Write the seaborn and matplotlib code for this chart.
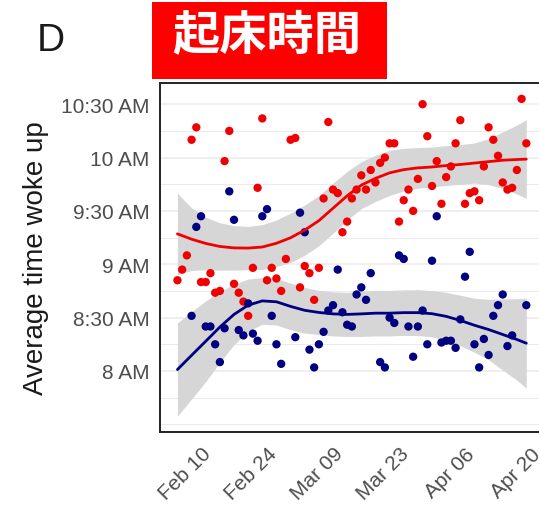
import numpy as np
import pandas as pd
import matplotlib
matplotlib.use("Agg")
import matplotlib.pyplot as plt
from matplotlib.patches import Rectangle
import seaborn as sns

sns.set_theme(style="white")
plt.rcParams["font.family"] = ["Liberation Sans", "DejaVu Sans"]

YEAR = 2020

# Daily average wake-up time, first group (red)
red_dates = ["02-05", "02-06", "02-07", "02-08", "02-09", "02-10", "02-11", "02-12",
             "02-13", "02-14", "02-15", "02-16", "02-17", "02-18", "02-19", "02-20",
             "02-21", "02-22", "02-23", "02-24", "02-25", "02-26", "02-27", "02-28",
             "02-29", "03-01", "03-02", "03-03", "03-04", "03-05", "03-06", "03-07",
             "03-08", "03-09", "03-10", "03-11", "03-12", "03-13", "03-14", "03-15",
             "03-16", "03-17", "03-18", "03-19", "03-20", "03-21", "03-22", "03-23",
             "03-24", "03-25", "03-26", "03-27", "03-28", "03-29", "03-30", "03-31",
             "04-01", "04-02", "04-03", "04-04", "04-05", "04-06", "04-07", "04-08",
             "04-09", "04-10", "04-11", "04-12", "04-13", "04-14", "04-15", "04-16",
             "04-17", "04-18", "04-19"]
red_times = ["8:51", "8:57", "9:05", "10:10", "10:17", "8:50", "8:50", "8:55",
             "8:44", "8:45", "9:58", "10:15", "8:49", "8:44", "8:39", "8:31",
             "8:58", "9:43", "10:22", "8:51", "8:58", "8:52", "8:45", "9:03",
             "10:10", "10:11", "8:47", "8:59", "8:55", "8:40", "8:58", "9:37",
             "10:20", "9:42", "9:40", "9:18", "9:24", "9:37", "9:42", "9:50",
             "9:42", "9:53", "9:46", "9:57", "10:00", "10:08", "10:08", "9:24",
             "9:36", "9:42", "9:30", "9:48", "10:30", "10:12", "9:44", "9:58",
             "9:34", "9:49", "9:55", "10:08", "10:21", "9:34", "9:40", "9:41",
             "9:36", "9:55", "10:17", "10:10", "10:01", "9:46", "9:42", "9:43",
             "9:53", "10:33", "10:08"]

# Daily average wake-up time, second group (navy)
navy_dates = ["02-08", "02-09", "02-10", "02-11", "02-12", "02-13", "02-14", "02-15",
              "02-16", "02-17", "02-18", "02-19", "02-20", "02-21", "02-22", "02-23",
              "02-24", "02-25", "02-26", "02-27", "03-01", "03-02", "03-03", "03-04",
              "03-05", "03-06", "03-07", "03-08", "03-09", "03-10", "03-11", "03-12",
              "03-13", "03-14", "03-15", "03-16", "03-17", "03-19", "03-20", "03-21",
              "03-22", "03-23", "03-24", "03-25", "03-26", "03-27", "03-28", "03-29",
              "03-30", "03-31", "04-01", "04-02", "04-03", "04-04", "04-05", "04-06",
              "04-07", "04-08", "04-09", "04-10", "04-11", "04-12", "04-13", "04-14",
              "04-15", "04-16", "04-19"]
navy_times = ["8:31", "9:21", "9:27", "8:25", "8:25", "8:15", "8:05", "8:24",
              "9:41", "9:25", "8:23", "8:20", "8:38", "8:21", "8:17", "9:27",
              "9:31", "8:31", "8:15", "8:04", "8:19", "9:29", "9:18", "8:12",
              "8:02", "8:15", "8:22", "8:34", "8:37", "8:57", "8:33", "8:26",
              "8:25", "8:43", "8:47", "8:40", "8:55", "8:05", "8:02", "8:30",
              "8:27", "9:05", "9:03", "8:25", "8:08", "8:25", "8:34", "8:15",
              "9:02", "9:27", "8:16", "8:17", "8:17", "8:13", "8:29", "8:53",
              "9:07", "8:15", "8:02", "8:18", "8:09", "8:31", "8:37", "8:43",
              "8:14", "8:20", "8:37"]

# Smoothed trend (minutes after 8 AM) and half-width of its confidence band
trend_dates = ["02-05", "02-08", "02-11", "02-14", "02-17", "02-20", "02-23", "02-26",
               "02-29", "03-03", "03-06", "03-09", "03-12", "03-15", "03-18", "03-21",
               "03-24", "03-27", "03-30", "04-02", "04-05", "04-08", "04-11", "04-14",
               "04-17", "04-19"]
red_fit = [77.1, 74.1, 71.7, 70.0, 69.2, 69.1, 69.7, 71.8, 74.9, 79.2, 84.5, 91.5, 98.5,
           104.5, 108.3, 111.4, 113.2, 114.2, 114.7, 115.5, 116.1, 116.9, 117.7, 118.5,
           118.9, 119.1]
red_band = [22.9, 17.6, 14.8, 13.3, 12.5, 12.2, 12.6, 13.1, 13.9, 14.1, 14.1, 14.1, 13.7,
            13.2, 13.0, 12.7, 12.0, 11.4, 11.2, 11.2, 11.2, 11.3, 12.9, 15.9, 19.4, 22.1]
navy_fit = [0.8, 8.8, 16.7, 24.7, 31.8, 37.0, 39.4, 38.9, 36.3, 34.1, 32.9, 32.1, 31.8,
            32.1, 32.5, 32.5, 32.8, 32.8, 32.2, 30.7, 28.4, 25.7, 23.3, 20.5, 17.7, 15.6]
navy_band = [26.2, 24.6, 22.7, 19.9, 17.0, 14.7, 13.1, 13.1, 13.1, 12.8, 12.4, 12.4, 12.4,
             12.7, 12.8, 12.8, 12.8, 12.9, 13.0, 13.5, 14.2, 15.2, 17.0, 20.0, 22.9, 25.3]

y_ticks = ["8 AM", "8:30 AM", "9 AM", "9:30 AM", "10 AM", "10:30 AM"]
x_ticks = ["02-10", "02-24", "03-09", "03-23", "04-06", "04-20"]

RED = "#F00000"
NAVY = "#000080"
BAND = "#D6D6D6"


def to_dt(days):
    return pd.to_datetime([f"{YEAR}-{d}" for d in days])


def to_min(times):
    out = []
    for t in times:
        h, m = t.split(":")
        out.append(int(h) * 60 + int(m))
    return np.array(out, dtype=float)


def label_to_min(lbl):
    t = lbl.split()[0]
    if ":" in t:
        h, m = t.split(":")
        return int(h) * 60 + int(m)
    return int(t) * 60


points = pd.concat([
    pd.DataFrame({"date": to_dt(red_dates), "mins": to_min(red_times), "group": "a"}),
    pd.DataFrame({"date": to_dt(navy_dates), "mins": to_min(navy_times), "group": "b"}),
], ignore_index=True)

tdt = to_dt(trend_dates)
rfit = 480 + np.array(red_fit)
rbd = np.array(red_band)
nfit = 480 + np.array(navy_fit)
nbd = np.array(navy_band)

W, H = 539, 506
fig = plt.figure(figsize=(W / 100, H / 100), dpi=100)

# panel geometry from the data range with 5% expansion on each side
x_lo = min(points["date"].min(), tdt.min())
x_hi = max(points["date"].max(), tdt.max())
x_pad = (x_hi - x_lo) * 0.05
y_lo = min(points["mins"].min(), (nfit - nbd).min(), (rfit - rbd).min())
y_hi = max(points["mins"].max(), (nfit + nbd).max(), (rfit + rbd).max())
y_pad = (y_hi - y_lo) * 0.05

left_px, top_px, bottom_px = 160, 84, 433
day_px = 66.0 / 14.0
span_days = (x_hi - x_lo + 2 * x_pad) / pd.Timedelta(days=1)
right_px = left_px + span_days * day_px
ax = fig.add_axes([left_px / W, 1 - bottom_px / H, (right_px - left_px) / W,
                   (bottom_px - top_px) / H])

ax.fill_between(tdt, rfit - rbd, rfit + rbd, color=BAND, lw=0, zorder=1)
ax.fill_between(tdt, nfit - nbd, nfit + nbd, color=BAND, lw=0, zorder=1)

sns.scatterplot(data=points, x="date", y="mins", hue="group",
                palette={"a": RED, "b": NAVY}, s=36, linewidth=0, legend=False,
                ax=ax, zorder=3)

sns.lineplot(x=tdt, y=rfit, color=RED, lw=2.0, ax=ax, zorder=4)
sns.lineplot(x=tdt, y=nfit, color=NAVY, lw=2.0, ax=ax, zorder=4)

ax.set_xlim(x_lo - x_pad, x_hi + x_pad)
ax.set_ylim(y_lo - y_pad, y_hi + y_pad)

ytick_vals = [label_to_min(l) for l in y_ticks]
ax.set_yticks(ytick_vals)
ax.set_yticklabels(y_ticks)
ax.set_yticks([450, 465, 495, 525, 555, 585, 615], minor=True)

xt = to_dt(x_ticks)
ax.set_xticks(xt)
ax.set_xticklabels([d.strftime("%b %d") for d in xt])

ax.grid(False)
ax.grid(axis="y", which="major", color="#EBEBEB", lw=1.1, zorder=0)
ax.grid(axis="y", which="minor", color="#EBEBEB", lw=0.7, zorder=0)
ax.set_axisbelow(True)

for sp in ax.spines.values():
    sp.set_visible(True)
    sp.set_color("#222222")
    sp.set_linewidth(1.4)

ax.tick_params(axis="both", which="major", direction="out", length=4.5, width=1.3,
               color="#333333", labelcolor="#4D4D4D", labelsize=15)
ax.tick_params(axis="y", which="major", pad=3)
ax.tick_params(axis="x", which="major", pad=4)
ax.tick_params(which="minor", length=0)
ax.set_xlabel("")
ax.set_ylabel("")

for lab in ax.get_xticklabels():
    lab.set_rotation(45)
    lab.set_ha("right")
    lab.set_rotation_mode("anchor")

fig.text(43 / W, 1 - 258.5 / H, "Average time woke up", rotation=90,
         rotation_mode="anchor", ha="center", va="baseline", fontsize=20,
         color="#1A1A1A")

fig.text(37 / W, 1 - 51 / H, "D", ha="left", va="baseline", fontsize=28,
         color="#1A1A1A")

fig.patches.append(Rectangle((152 / W, 1 - 80 / H), 235 / W, 77 / H,
                             transform=fig.transFigure, facecolor="#FF0000",
                             edgecolor="none"))
fig.text(266.5 / W, 1 - 36 / H, "起床時間", ha="center", va="center",
         fontsize=34, fontweight="bold", color="white",
         family=["Noto Sans CJK JP", "DejaVu Sans"])

fig.savefig("out.png", dpi=100)
